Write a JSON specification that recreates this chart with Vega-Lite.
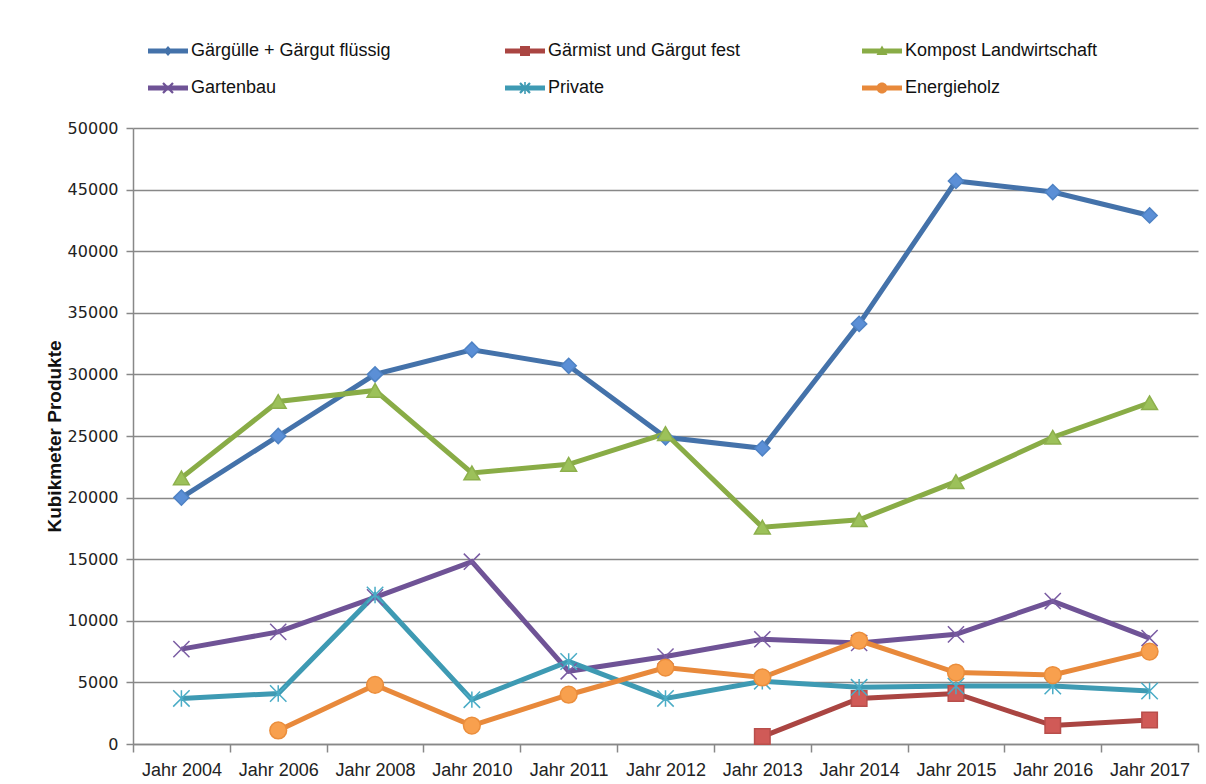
{
  "$schema": "https://vega.github.io/schema/vega-lite/v6.json",
  "width": 1065,
  "height": 616,
  "autosize": {"type": "none"},
  "padding": {"left": 133, "top": 128, "right": 8, "bottom": 40},
  "background": "white",
  "config": {"view": {"stroke": null}, "font": "Liberation Sans"},
  "data": {"values": [
    {"year": "Jahr 2004", "series": "Gärgülle + Gärgut flüssig", "value": 20000},
    {"year": "Jahr 2006", "series": "Gärgülle + Gärgut flüssig", "value": 25000},
    {"year": "Jahr 2008", "series": "Gärgülle + Gärgut flüssig", "value": 30000},
    {"year": "Jahr 2010", "series": "Gärgülle + Gärgut flüssig", "value": 32000},
    {"year": "Jahr 2011", "series": "Gärgülle + Gärgut flüssig", "value": 30700},
    {"year": "Jahr 2012", "series": "Gärgülle + Gärgut flüssig", "value": 24900},
    {"year": "Jahr 2013", "series": "Gärgülle + Gärgut flüssig", "value": 24000},
    {"year": "Jahr 2014", "series": "Gärgülle + Gärgut flüssig", "value": 34100},
    {"year": "Jahr 2015", "series": "Gärgülle + Gärgut flüssig", "value": 45700},
    {"year": "Jahr 2016", "series": "Gärgülle + Gärgut flüssig", "value": 44800},
    {"year": "Jahr 2017", "series": "Gärgülle + Gärgut flüssig", "value": 42900},
    {"year": "Jahr 2013", "series": "Gärmist und Gärgut fest", "value": 600},
    {"year": "Jahr 2014", "series": "Gärmist und Gärgut fest", "value": 3700},
    {"year": "Jahr 2015", "series": "Gärmist und Gärgut fest", "value": 4100},
    {"year": "Jahr 2016", "series": "Gärmist und Gärgut fest", "value": 1500},
    {"year": "Jahr 2017", "series": "Gärmist und Gärgut fest", "value": 1950},
    {"year": "Jahr 2004", "series": "Kompost Landwirtschaft", "value": 21600},
    {"year": "Jahr 2006", "series": "Kompost Landwirtschaft", "value": 27800},
    {"year": "Jahr 2008", "series": "Kompost Landwirtschaft", "value": 28700},
    {"year": "Jahr 2010", "series": "Kompost Landwirtschaft", "value": 22000},
    {"year": "Jahr 2011", "series": "Kompost Landwirtschaft", "value": 22700},
    {"year": "Jahr 2012", "series": "Kompost Landwirtschaft", "value": 25200},
    {"year": "Jahr 2013", "series": "Kompost Landwirtschaft", "value": 17600},
    {"year": "Jahr 2014", "series": "Kompost Landwirtschaft", "value": 18200},
    {"year": "Jahr 2015", "series": "Kompost Landwirtschaft", "value": 21300},
    {"year": "Jahr 2016", "series": "Kompost Landwirtschaft", "value": 24900},
    {"year": "Jahr 2017", "series": "Kompost Landwirtschaft", "value": 27700},
    {"year": "Jahr 2004", "series": "Gartenbau", "value": 7700},
    {"year": "Jahr 2006", "series": "Gartenbau", "value": 9100},
    {"year": "Jahr 2008", "series": "Gartenbau", "value": 11900},
    {"year": "Jahr 2010", "series": "Gartenbau", "value": 14800},
    {"year": "Jahr 2011", "series": "Gartenbau", "value": 5900},
    {"year": "Jahr 2012", "series": "Gartenbau", "value": 7100},
    {"year": "Jahr 2013", "series": "Gartenbau", "value": 8500},
    {"year": "Jahr 2014", "series": "Gartenbau", "value": 8200},
    {"year": "Jahr 2015", "series": "Gartenbau", "value": 8900},
    {"year": "Jahr 2016", "series": "Gartenbau", "value": 11600},
    {"year": "Jahr 2017", "series": "Gartenbau", "value": 8600},
    {"year": "Jahr 2004", "series": "Private", "value": 3700},
    {"year": "Jahr 2006", "series": "Private", "value": 4100},
    {"year": "Jahr 2008", "series": "Private", "value": 12100},
    {"year": "Jahr 2010", "series": "Private", "value": 3600},
    {"year": "Jahr 2011", "series": "Private", "value": 6700},
    {"year": "Jahr 2012", "series": "Private", "value": 3700},
    {"year": "Jahr 2013", "series": "Private", "value": 5100},
    {"year": "Jahr 2014", "series": "Private", "value": 4600},
    {"year": "Jahr 2015", "series": "Private", "value": 4700},
    {"year": "Jahr 2016", "series": "Private", "value": 4700},
    {"year": "Jahr 2017", "series": "Private", "value": 4300},
    {"year": "Jahr 2006", "series": "Energieholz", "value": 1100},
    {"year": "Jahr 2008", "series": "Energieholz", "value": 4800},
    {"year": "Jahr 2010", "series": "Energieholz", "value": 1500},
    {"year": "Jahr 2011", "series": "Energieholz", "value": 4000},
    {"year": "Jahr 2012", "series": "Energieholz", "value": 6200},
    {"year": "Jahr 2013", "series": "Energieholz", "value": 5400},
    {"year": "Jahr 2014", "series": "Energieholz", "value": 8400},
    {"year": "Jahr 2015", "series": "Energieholz", "value": 5800},
    {"year": "Jahr 2016", "series": "Energieholz", "value": 5600},
    {"year": "Jahr 2017", "series": "Energieholz", "value": 7500}
  ]},
  "encoding": {
    "x": {
      "field": "year", "type": "ordinal",
      "sort": ["Jahr 2004", "Jahr 2006", "Jahr 2008", "Jahr 2010", "Jahr 2011", "Jahr 2012", "Jahr 2013", "Jahr 2014", "Jahr 2015", "Jahr 2016", "Jahr 2017"],
      "scale": {"type": "band", "paddingInner": 0, "paddingOuter": 0},
      "axis": {
        "title": null, "tickBand": "extent", "labelAngle": 0, "grid": false,
        "domainColor": "#888888", "domainWidth": 1.5,
        "tickColor": "#888888", "tickWidth": 1.5, "tickSize": 8,
        "labelFont": "Liberation Sans", "labelFontSize": 18, "labelColor": "#222222", "labelPadding": 9
      }
    },
    "y": {
      "field": "value", "type": "quantitative",
      "scale": {"domain": [0, 50000], "nice": false},
      "axis": {
        "title": "Kubikmeter Produkte",
        "values": [0, 5000, 10000, 15000, 20000, 25000, 30000, 35000, 40000, 45000, 50000],
        "format": "d", "grid": true, "gridColor": "#888888", "gridWidth": 1.5,
        "domainColor": "#888888", "domainWidth": 1.5,
        "tickColor": "#888888", "tickWidth": 1.5, "tickSize": 7,
        "labelFont": "DejaVu Sans", "labelFontSize": 16, "labelColor": "#222222", "labelPadding": 8,
        "titleFont": "Liberation Sans", "titleFontSize": 19, "titleFontWeight": "bold", "titleColor": "#111111", "titlePadding": 3
      }
    }
  },
  "layer": [
    {
      "mark": {"type": "line", "strokeWidth": 5},
      "encoding": {
        "color": {
          "field": "series", "type": "nominal", "legend": null,
          "scale": {
            "domain": ["Gärgülle + Gärgut flüssig", "Gärmist und Gärgut fest", "Kompost Landwirtschaft", "Gartenbau", "Private", "Energieholz"],
            "range": ["#4472AA", "#AA4542", "#89AC46", "#6F5396", "#3E9AB3", "#E8893B"]
          }
        }
      }
    },
    {
      "mark": {"type": "point", "filled": true, "opacity": 1, "strokeWidth": 1.5},
      "encoding": {
        "shape": {
          "field": "series", "type": "nominal", "legend": null,
          "scale": {
            "domain": ["Gärgülle + Gärgut flüssig", "Gärmist und Gärgut fest", "Kompost Landwirtschaft", "Gartenbau", "Private", "Energieholz"],
            "range": ["diamond", "square", "triangle-up", "M-1,-1L1,1M-1,1L1,-1", "M-1,-1L1,1M-1,1L1,-1M0,-1L0,1", "circle"]
          }
        },
        "fill": {
          "field": "series", "type": "nominal", "legend": null,
          "scale": {
            "domain": ["Gärgülle + Gärgut flüssig", "Gärmist und Gärgut fest", "Kompost Landwirtschaft", "Gartenbau", "Private", "Energieholz"],
            "range": ["#5B8FD6", "#D05A57", "#9CC15A", "#7C5EA6", "#4BB0CA", "#F8A04E"]
          }
        },
        "stroke": {
          "field": "series", "type": "nominal", "legend": null,
          "scale": {
            "domain": ["Gärgülle + Gärgut flüssig", "Gärmist und Gärgut fest", "Kompost Landwirtschaft", "Gartenbau", "Private", "Energieholz"],
            "range": ["#4E82C4", "#B84E4B", "#8DB04C", "#7A5CA3", "#4AACC6", "#EB8E3C"]
          }
        },
        "size": {
          "field": "series", "type": "nominal", "legend": null,
          "scale": {
            "domain": ["Gärgülle + Gärgut flüssig", "Gärmist und Gärgut fest", "Kompost Landwirtschaft", "Gartenbau", "Private", "Energieholz"],
            "range": [230, 280, 320, 160, 160, 340]
          }
        }
      }
    },
    {
      "transform": [{"filter": "false"}],
      "mark": {"type": "point", "filled": true, "opacity": 1},
      "encoding": {
        "shape": {
          "field": "series", "type": "nominal",
          "scale": {
            "domain": ["Gärgülle + Gärgut flüssig", "Gärmist und Gärgut fest", "Kompost Landwirtschaft", "Gartenbau", "Private", "Energieholz"],
            "range": [
              "M-2,-0.24L2,-0.24L2,0.24L-2,0.24Z M0,-0.5L0.45,0L0,0.5L-0.45,0Z",
              "M-2,-0.24L2,-0.24L2,0.24L-2,0.24Z M-0.5,-0.5L0.5,-0.5L0.5,0.5L-0.5,0.5Z",
              "M-2,-0.24L2,-0.24L2,0.24L-2,0.24Z M0,-0.55L0.55,0.4L-0.55,0.4Z",
              "M-2,-0.24L2,-0.24L2,0.24L-2,0.24Z M-0.58,-0.42L-0.42,-0.58L0.58,0.42L0.42,0.58Z M0.42,-0.58L0.58,-0.42L-0.42,0.58L-0.58,0.42Z",
              "M-2,-0.24L2,-0.24L2,0.24L-2,0.24Z M-0.58,-0.42L-0.42,-0.58L0.58,0.42L0.42,0.58Z M0.42,-0.58L0.58,-0.42L-0.42,0.58L-0.58,0.42Z M-0.08,-0.6L0.08,-0.6L0.08,0.6L-0.08,0.6Z",
              "M-2,-0.24L2,-0.24L2,0.24L-2,0.24Z M-0.55,0A0.55,0.55 0 1,1 0.55,0A0.55,0.55 0 1,1 -0.55,0Z"
            ]
          },
          "legend": {
            "title": null, "orient": "none", "legendX": 25, "legendY": -87, "padding": 0,
            "direction": "horizontal",
            "columns": 3, "gridAlign": "all", "columnPadding": 114, "rowPadding": 18,
            "symbolSize": 400, "symbolStrokeWidth": 0, "symbolOpacity": 1,
            "labelOffset": 13, "labelLimit": 400,
            "labelFont": "Liberation Sans", "labelFontSize": 18, "labelColor": "#111111"
          }
        },
        "fill": {
          "field": "series", "type": "nominal",
          "scale": {
            "domain": ["Gärgülle + Gärgut flüssig", "Gärmist und Gärgut fest", "Kompost Landwirtschaft", "Gartenbau", "Private", "Energieholz"],
            "range": ["#4472AA", "#AA4542", "#89AC46", "#6F5396", "#3E9AB3", "#E8893B"]
          },
          "legend": {
            "title": null, "orient": "none", "legendX": 25, "legendY": -87, "padding": 0,
            "direction": "horizontal",
            "columns": 3, "gridAlign": "all", "columnPadding": 114, "rowPadding": 18,
            "symbolSize": 400, "symbolStrokeWidth": 0, "symbolOpacity": 1,
            "labelOffset": 13, "labelLimit": 400,
            "labelFont": "Liberation Sans", "labelFontSize": 18, "labelColor": "#111111"
          }
        }
      }
    }
  ],
  "resolve": {"scale": {"shape": "independent", "fill": "independent"}}
}
